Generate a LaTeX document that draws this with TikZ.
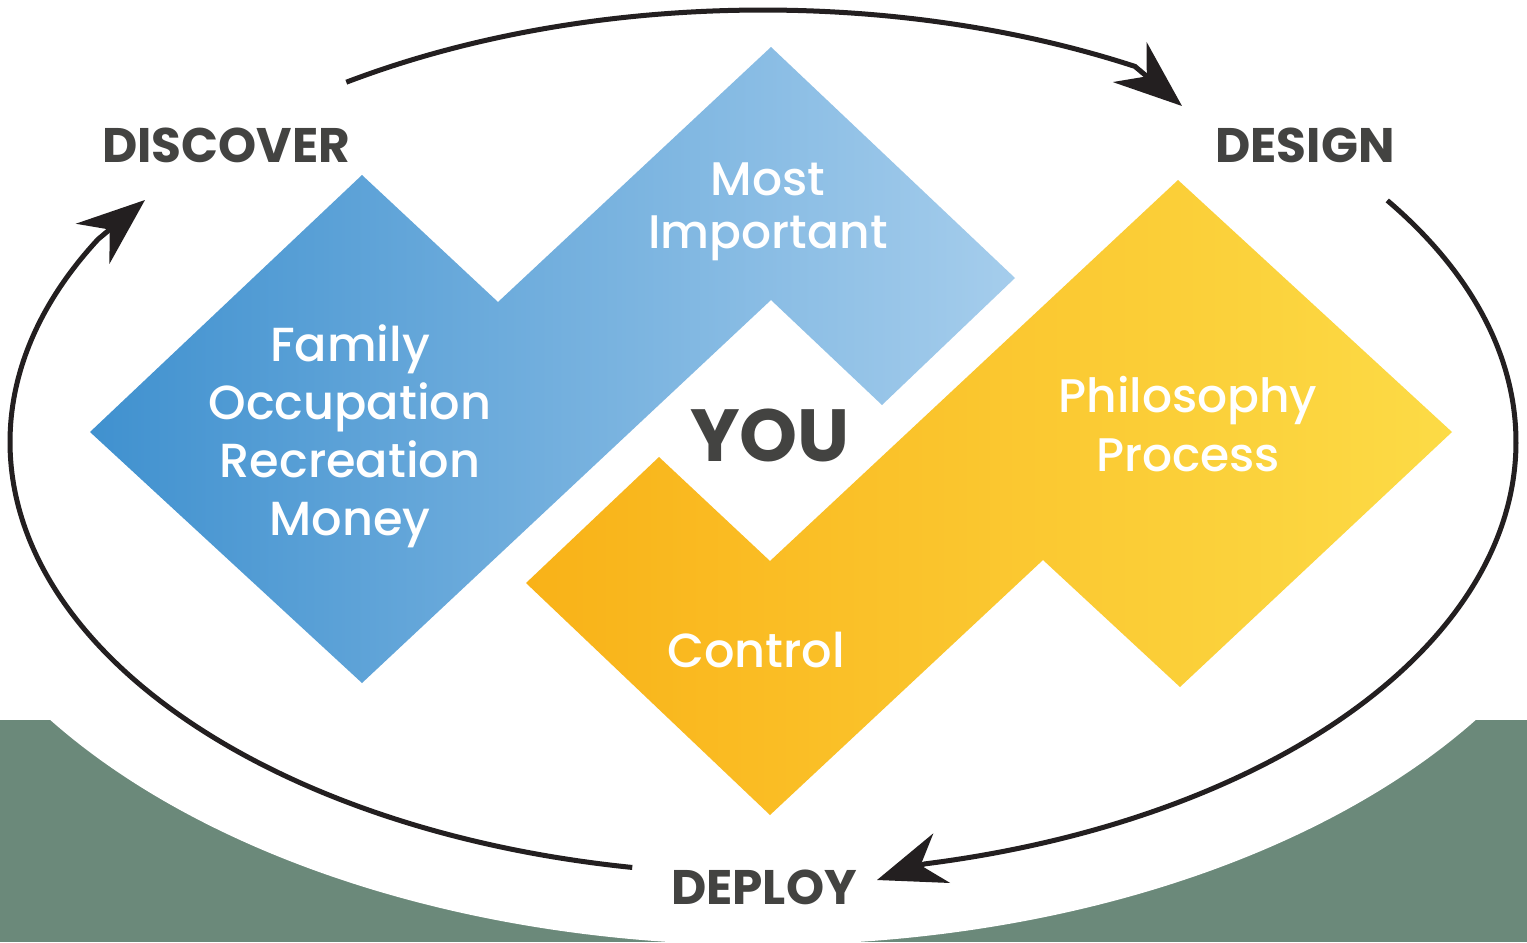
\documentclass[tikz,border=0pt]{standalone}
\usepackage{fontspec}
\setmainfont{Poppins}
\newfontfamily\itemfont{Poppins}[UprightFont=* Medium]
\usetikzlibrary{arrows.meta}
\definecolor{bluedark}{RGB}{64,145,207}
\definecolor{bluelight}{RGB}{165,205,236}
\definecolor{yellowdark}{RGB}{249,178,24}
\definecolor{yellowlight}{RGB}{252,219,70}
\definecolor{groundgreen}{RGB}{107,137,122}
\definecolor{labelgray}{RGB}{67,67,65}
\definecolor{loopblack}{RGB}{35,31,32}
\tikzset{
  stage/.style={font=\fontsize{13.8}{16}\selectfont\bfseries, text=labelgray},
  item/.style={font=\itemfont\fontsize{14}{16}\selectfont, text=white, align=center},
  loop arrow/.style={line width=0.05cm, draw=loopblack,
    -{Stealth[length=0.68cm, width=0.52cm, inset=0.22cm]}},
}
\begin{document}
\begin{tikzpicture}[x=0.01cm, y=-0.01cm]
\useasboundingbox (0,0) rectangle (1527,942);
\coordinate (ctr) at (763,442);
% ground
\begin{scope}
  \clip (0,0) rectangle (1527,942);
  \fill[groundgreen] (0,720) rectangle (1527,942);
  \fill[white] (ctr) ellipse [x radius=855, y radius=503];
\end{scope}
% the two zigzags
\shade[left color=bluedark, right color=bluelight]
  (90,432) -- (362,175) -- (498,302) -- (771,47) -- (1015,278)
  -- (882,405) -- (771,300) -- (362,683) -- cycle;
\shade[left color=yellowdark, right color=yellowlight]
  (526,583) -- (659,457) -- (770,561) -- (1178,180) -- (1452,432)
  -- (1180,687) -- (1043,560) -- (770,815) -- cycle;
% labels
\node[stage] (discover) at (226,145) {DISCOVER};
\node[stage] (design) at (1305,145) {DESIGN};
\node[stage] (deploy) at (764,887) {DEPLOY};
\node[font=\fontsize{21}{24}\selectfont\bfseries, text=labelgray] (you) at (770,435) {YOU};
\node[item, font=\itemfont\fontsize{13.6}{16.5}\selectfont] (life) at (350,436) {Family\\Occupation\\Recreation\\Money};
\node[item, font=\itemfont\fontsize{13.4}{15}\selectfont] (important) at (768,212) {Most\\Important};
\node[item, font=\itemfont\fontsize{13.4}{17}\selectfont] (method) at (1188,424) {Philosophy\\Process};
\node[item, font=\itemfont\fontsize{13.6}{16}\selectfont] (control) at (756,650) {Control};
% the loop
\coordinate (d1) at ([shift={(-123.6:753 and 432)}]ctr);
\coordinate (d2) at ([shift={(-60.4:753 and 432)}]ctr);
\coordinate (tipdesign) at (1182,106);
\coordinate (r1) at ([shift={(-34:753 and 432)}]ctr);
\coordinate (r2) at ([shift={(77.6:753 and 432)}]ctr);
\coordinate (tipdeploy) at (877,880);
\coordinate (l1) at ([shift={(100:753 and 432)}]ctr);
\coordinate (l2) at ([shift={(208:753 and 432)}]ctr);
\coordinate (tipdiscover) at (145,200);
\draw[loop arrow] (d1) arc[start angle=-123.6, end angle=-60.4, x radius=753, y radius=432] -- (tipdesign);
\draw[loop arrow] (r1) arc[start angle=-34, end angle=77.6, x radius=753, y radius=432] -- (tipdeploy);
\draw[loop arrow] (l1) arc[start angle=100, end angle=208, x radius=753, y radius=432] -- (tipdiscover);
\end{tikzpicture}
\end{document}
